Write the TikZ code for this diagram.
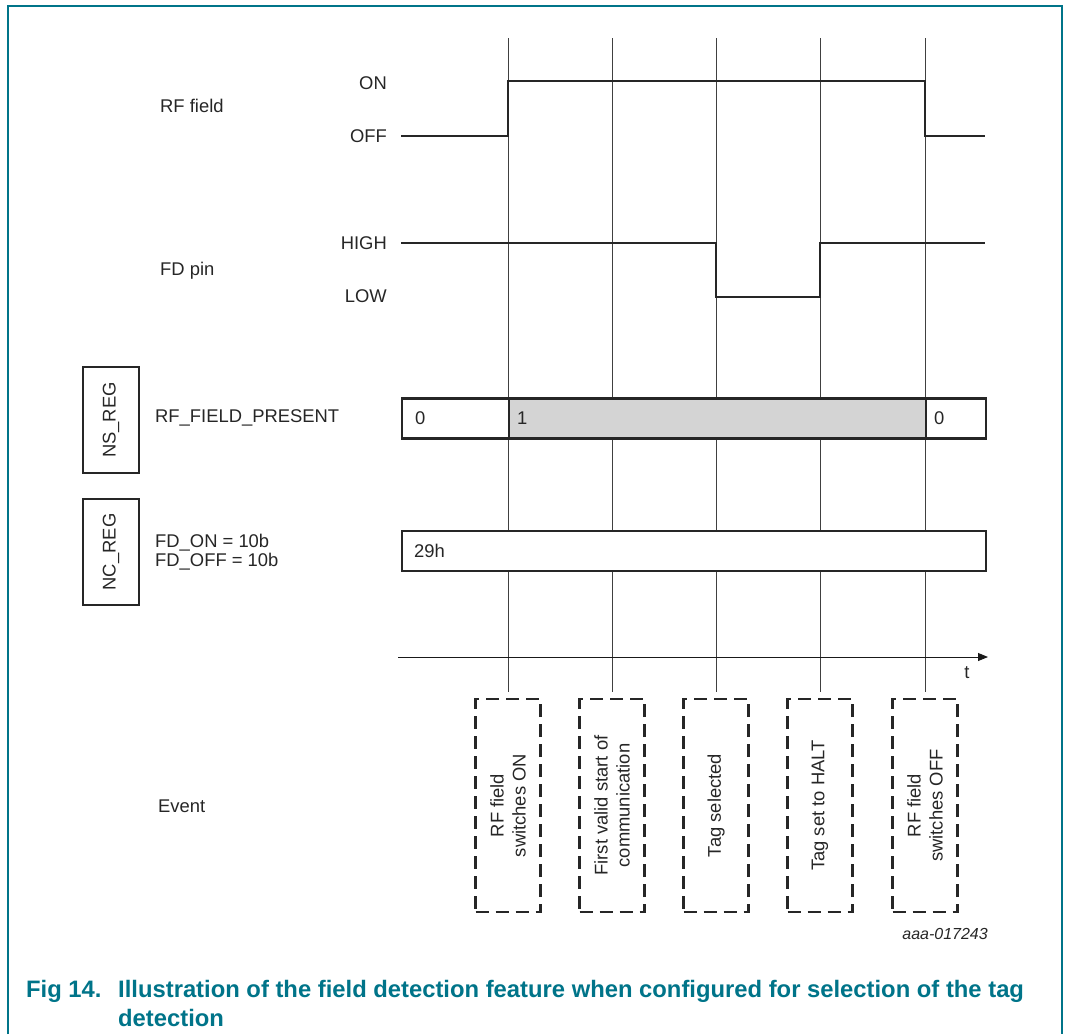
\documentclass[tikz,border=0pt]{standalone}
\usepackage{fontspec}
\setmainfont{Liberation Sans}
\usepackage{xcolor}
\usetikzlibrary{positioning}
\usetikzlibrary{arrows.meta}
\definecolor{nxpteal}{RGB}{0,116,137}
\definecolor{regfill}{RGB}{212,212,212}
\tikzset{lbl/.style={font=\fontsize{18.4}{19.5}\selectfont, inner sep=0pt, text=black!85},
lvl/.style={lbl, anchor=east},
sig/.style={line width=2pt, black!85},
guide/.style={line width=0.9pt, black!75},
regcell/.style={draw=black!85, line width=2.4pt, minimum height=40, anchor=west, inner sep=0pt},
regtag/.style={lbl, draw=black!85, line width=2.4pt, rotate=90, minimum width=106, minimum height=56},
evbox/.style={draw=black!85, line width=2.6pt, dash pattern=on 13pt off 7pt, minimum width=65, minimum height=213, inner sep=0pt},
evtext/.style={lbl, rotate=90, align=center, font=\fontsize{18.4}{22}\selectfont},
captxt/.style={font=\bfseries\fontsize{23.8}{29}\selectfont, text=nxpteal, inner sep=0pt, anchor=base west}}
\begin{document}
\begin{tikzpicture}[x=1pt, y=-1pt]
	\useasboundingbox (0,0) rectangle (1066,1034);
	\draw[nxpteal, line width=1.5pt] (8,1034) -- (8,6) -- (1062,6) -- (1062,1034);
	\foreach \x/\n/\txt in {508/a/{RF field\\switches ON}, 612/b/{First valid start of\\communication}, 716/c/{Tag selected}, 820/d/{Tag set to HALT}, 925/e/{RF field\\switches OFF}} {
		\node[evbox] (ev\n) at (\x,805.5) {};
		\node[evtext] at (ev\n.center) {\txt};
		\coordinate (top\n) at (\x,38);
		\draw[guide, shorten >=6pt] (top\n) -- (ev\n.north);
	}
	\node[lbl, anchor=west] (rflbl) at (160,106) {RF field};
	\node[lvl] (on) at (387,83) {ON};
	\node[lvl] (off) at (387,136) {OFF};
	\draw[sig] (401,136) -- (508,136) -- (508,81) -- (925,81) -- (925,136) -- (985,136);
	\node[lbl, anchor=west] (fdlbl) at (160,271) {FD pin};
	\node[lvl] (high) at (387,243) {HIGH};
	\node[lvl] (low) at (387,296) {LOW};
	\draw[sig] (401,243) -- (716,243) -- (716,297) -- (820,297) -- (820,243) -- (985,243);
	\node[regtag] (nsreg) at (111,420) {NS\_REG};
	\node[lbl, anchor=west] (present) at (155,418) {RF\_FIELD\_PRESENT};
	\node[regcell, minimum width=107] (nsa) at (401,418.5) {};
	\node[regcell, minimum width=417, fill=regfill] (nsb) at (508,418.5) {};
	\node[regcell, minimum width=60] (nsc) at (925,418.5) {};
	\node[lbl, right=14pt of nsa.west] {0};
	\node[lbl, right=9pt of nsb.west] {1};
	\node[lbl, right=9pt of nsc.west] {0};
	\node[regtag] (ncreg) at (111,552) {NC\_REG};
	\node[lbl, anchor=west, align=left] (fdcfg) at (155,552) {FD\_ON = 10b\\FD\_OFF = 10b};
	\node[regcell, minimum width=584, fill=white] (ncall) at (401,551) {};
	\node[lbl, right=13pt of ncall.west] {29h};
	\coordinate (t0) at (398,657);
	\coordinate (t1) at (988,657);
	\draw[guide, black!90, -{Triangle[length=10pt, width=8pt]}] (t0) -- (t1);
	\node[lbl] (tlbl) at (967,673) {t};
	\node[lbl, anchor=west] (evlbl) at (158,806) {Event};
	\node[font=\fontsize{16}{18}\selectfont\itshape, inner sep=0pt, anchor=base east, text=black!85] (docid) at (988,939) {aaa-017243};
	\node[captxt] (figno) at (26,997) {Fig 14.};
	\node[captxt] (figcap) at (118,997) {Illustration of the field detection feature when configured for selection of the tag};
	\node[captxt] (figcap2) at ([yshift=-29pt]figcap.base west) {detection};
\end{tikzpicture}
\end{document}
